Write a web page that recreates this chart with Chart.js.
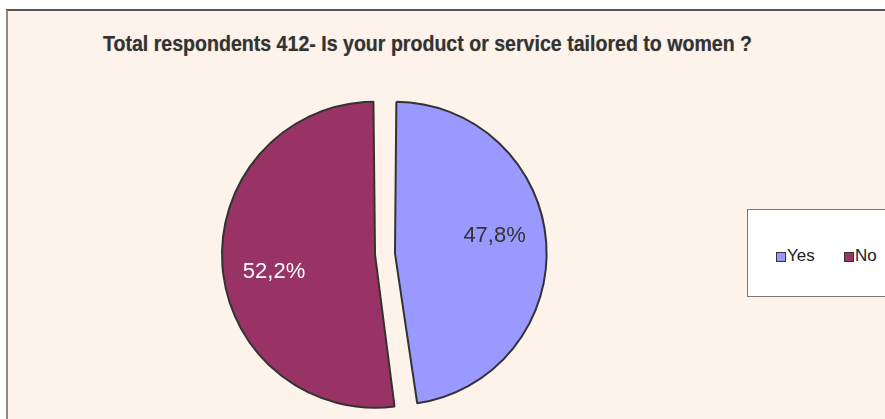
<!DOCTYPE html>
<html>
<head>
<meta charset="utf-8">
<script src="https://cdn.jsdelivr.net/npm/chart.js@4/dist/chart.umd.min.js"></script>
<style>
  html, body { margin: 0; padding: 0; background: #fff; }
  #frame {
    position: absolute; left: 6px; top: 9px; width: 900px; height: 420px;
    background: #fdf3ea; border-left: 2px solid #8a8a8a; border-top: 2px solid #555;
  }
  #title {
    position: absolute; left: 0; top: 31px; width: 855px; text-align: center;
    font: bold 22px "Liberation Sans", Arial, sans-serif;
    color: #333; text-shadow: 0 0 1px rgba(0,0,0,0.35);
    transform: scaleX(0.89); transform-origin: 427.5px 0;
  }
  #legend {
    position: absolute; left: 747px; top: 209px; width: 160px; height: 86px;
    background: #fff; border: 1px solid #777;
  }
  .item { position: absolute; top: 36px; font: 17px "Liberation Sans", Arial, sans-serif; color: #222; line-height: 20px; }
  .sw { display: inline-block; width: 8px; height: 8px; border: 1px solid #333; margin-right: 1px; vertical-align: -1px; }
  #wrap { position: absolute; left: 0; top: 0; width: 885px; height: 419px; }
</style>
</head>
<body>
<div id="frame"></div>
<div id="title"></div>
<div id="legend"></div>
<div id="wrap"><canvas id="pie"></canvas></div>
<script>
const titleText = 'Total respondents 412- Is your product or service tailored to women ?';
const labels = ['Yes', 'No'];
const shares = [47.8, 52.2];
const colors = ['#9999ff', '#993366'];
const labelColors = ['#333333', '#ffffff'];
const explode = 40; // arc offset option; Chart.js uses offset / 4 px
const pieRadius = 143; // drawn radius ends up pieRadius + explode / 4

document.getElementById('title').textContent = titleText;

// legend box, one row
const legend = document.getElementById('legend');
const legendX = [28, 96];
labels.forEach((lab, i) => {
    const item = document.createElement('div');
    item.className = 'item';
    item.style.left = legendX[i] + 'px';
    const sw = document.createElement('span');
    sw.className = 'sw';
    sw.style.background = colors[i];
    item.appendChild(sw);
    item.appendChild(document.createTextNode(lab));
    legend.appendChild(item);
});

// percentage text inside each slice, following the slice's shift
const sliceLabels = {
    id: 'sliceLabels',
    afterDatasetsDraw(chart) {
        const ctx = chart.ctx;
        const meta = chart.getDatasetMeta(0);
        ctx.save();
        ctx.font = '22px "Liberation Sans", Arial, sans-serif';
        ctx.textAlign = 'center';
        ctx.textBaseline = 'middle';
        meta.data.forEach((arc, i) => {
            const p = arc.getProps(['x', 'y', 'startAngle', 'endAngle', 'outerRadius', 'circumference'], true);
            const half = (p.startAngle + p.endAngle) / 2;
            const shift = explode / 4 * (1 - Math.sin(Math.min(Math.PI, p.circumference)));
            const cx = p.x + Math.cos(half) * shift;
            const cy = p.y + Math.sin(half) * shift;
            const mid = half - 6 * Math.PI / 180;
            const d = (p.outerRadius + explode / 4) * 0.67;
            ctx.fillStyle = labelColors[i];
            ctx.fillText(shares[i].toFixed(1).replace('.', ',') + '%', cx + Math.cos(mid) * d, cy + Math.sin(mid) * d);
        });
        ctx.restore();
    }
};

new Chart(document.getElementById('pie'), {
    type: 'pie',
    data: {
        labels: labels,
        datasets: [{
            data: shares,
            backgroundColor: colors,
            borderColor: '#333',
            borderWidth: 2,
            offset: explode
        }]
    },
    options: {
        responsive: true,
        maintainAspectRatio: false,
        animation: false,
        radius: pieRadius,
        layout: { padding: { left: 70, right: 185, top: 90, bottom: 1 } },
        plugins: {
            legend: { display: false },
            title: { display: false },
            tooltip: { enabled: false }
        }
    },
    plugins: [sliceLabels]
});
</script>
</body>
</html>
